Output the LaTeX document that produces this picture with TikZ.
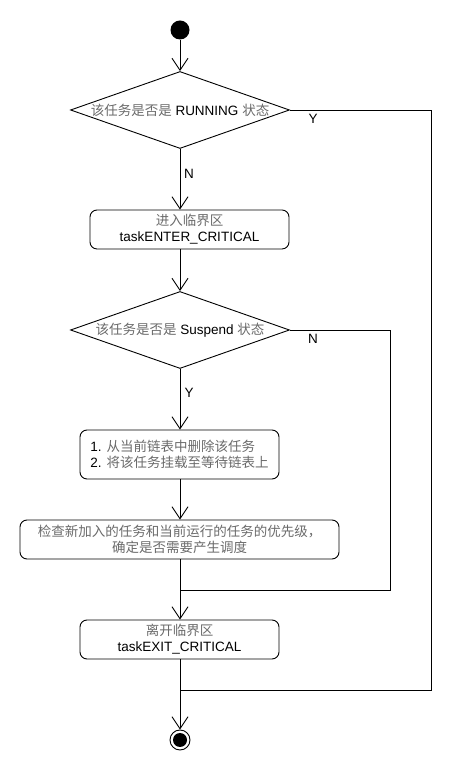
\documentclass[tikz,border=0pt]{standalone}
\usepackage{fontspec}
\setmainfont{Liberation Sans}
\newfontfamily\cjkfont{Noto Sans CJK SC}
\usetikzlibrary{shapes.geometric,arrows.meta}
\definecolor{zhgray}{HTML}{6A6A6A}
\newcommand\zhtxt[1]{{\cjkfont\color{zhgray}#1}}
\begin{document}
\begin{tikzpicture}[x=1pt,y=1pt,
  every node/.style={font=\fontsize{13.5}{16}\selectfont},
  decision/.style={draw,diamond,inner sep=0pt,minimum width=219pt,minimum height=77pt,line width=0.9pt},
  actbox/.style={draw,rounded corners=7pt,inner sep=0pt,line width=0.9pt,align=center},
  arr/.style={-{Straight Barb[length=12pt,width=16pt,line width=0.9pt]},line width=0.9pt},
  ln/.style={line width=0.9pt},
  lab/.style={inner sep=0pt}]
\useasboundingbox (0,0) rectangle (470,770);
\node[circle,fill=black,minimum size=19pt,inner sep=0pt] (start) at (180,740) {};
\node[decision] (d1) at (180,660) {\makebox[0pt]{\zhtxt{该任务是否是} RUNNING \zhtxt{状态}}};
\node[actbox,minimum width=199pt,minimum height=39pt] (b1) at (189.5,540.5) {\zhtxt{进入临界区}\\taskENTER\_CRITICAL};
\node[decision] (d2) at (180,440) {\makebox[0pt]{\zhtxt{该任务是否是} Suspend \zhtxt{状态}}};
\node[actbox,minimum width=199pt,minimum height=49pt,align=left] (b2) at (179.5,315.5) {1. \zhtxt{从当前链表中删除该任务}\\2. \zhtxt{将该任务挂载至等待链表上}};
\node[actbox,minimum width=319pt,minimum height=39pt] (b3) at (179.5,230.5) {\zhtxt{检查新加入的任务和当前运行的任务的优先级，}\\\zhtxt{确定是否需要产生调度}};
\node[actbox,minimum width=199pt,minimum height=39pt] (b4) at (179.5,130.5) {\zhtxt{离开临界区}\\taskEXIT\_CRITICAL};
\node[circle,draw,line width=0.9pt,minimum size=20pt,inner sep=0pt] (end) at (180,30) {};
\node[circle,fill=black,minimum size=14pt,inner sep=0pt] (endin) at (180,30) {};
\coordinate (j1) at (180,180);
\coordinate (j2) at (180,80);
\coordinate (n2) at (390,180);
\coordinate (y1) at (431,80);
\draw[arr] (start) -- (d1.north);
\draw[arr] (d1.south) -- (d1.south |- b1.north);
\draw[arr] (b1.south -| d2.north) -- (d2.north);
\draw[arr] (d2.south) -- (d2.south |- b2.north);
\draw[arr] (b2.south -| d2.south) -- (b3.north -| d2.south);
\draw[arr] (b3.south -| d2.south) -- (b4.north -| d2.south);
\draw[arr] (b4.south -| d2.south) -- (end.north);
\draw[ln] (d1.east) -| (y1) -- (j2);
\draw[ln] (d2.east) -| (n2) -- (j1);
\node[lab] (ly) at (313,651) {Y};
\node[lab] (ln1) at (189,596) {N};
\node[lab] (ln2) at (313,431) {N};
\node[lab] (ly2) at (189,377) {Y};
\end{tikzpicture}
\end{document}
